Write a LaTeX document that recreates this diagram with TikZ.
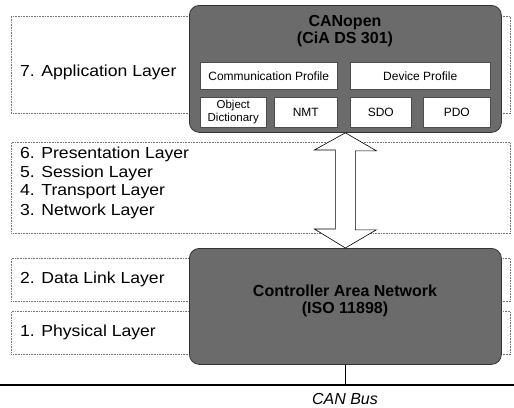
\documentclass[tikz,border=0pt]{standalone}
\usepackage{fontspec}
\setmainfont{Liberation Sans}
\newfontfamily\lblfont[FakeStretch=1.1]{Liberation Sans}
\begin{document}
\begin{tikzpicture}[x=1pt,y=-1pt,
 layerbox/.style={draw=black!55, densely dotted, line width=0.6pt, inner sep=0pt, anchor=north west},
 darkbox/.style={draw=black!80, fill=black!58, rounded corners=10pt, line width=0.8pt, inner sep=0pt, anchor=north west},
 innerbox/.style={draw=black!70, fill=white, line width=0.5pt, inner sep=0pt, anchor=north west, align=center, font=\fontsize{12}{13}\selectfont},
 lbl/.style={anchor=west, inner sep=0pt, font=\lblfont\fontsize{16}{19}\selectfont},
 darktitle/.style={align=center, inner sep=0pt, text=black, font=\bfseries\fontsize{16}{17}\selectfont},
 arrowshape/.style={draw=black, fill=white, line width=0.6pt, line join=miter}
]
\useasboundingbox (0,0) rectangle (514,407);

% layer boxes
\node[layerbox, minimum width=499pt, minimum height=97pt] (app) at (11,16) {};
\node[layerbox, minimum width=499pt, minimum height=91pt] (mid) at (11,142) {};
\node[layerbox, minimum width=499pt, minimum height=43pt] (dll) at (11,258) {};
\node[layerbox, minimum width=499pt, minimum height=43pt] (phy) at (11,311) {};

% layer labels
\node[lbl] (l7) at (20,72) {7. Application Layer};
\node[lbl] (l6) at (20,154) {6. Presentation Layer};
\node[lbl] (l5) at (20,173) {5. Session Layer};
\node[lbl] (l4) at (20,192) {4. Transport Layer};
\node[lbl] (l3) at (20,211) {3. Network Layer};
\node[lbl] (l2) at (20,279) {2. Data Link Layer};
\node[lbl] (l1) at (20,332) {1. Physical Layer};

% CANopen box
\node[darkbox, minimum width=312pt, minimum height=127pt] (canopen) at (189,5) {};
\node[darktitle] (cotitle) at (345,31) {CANopen\\(CiA DS 301)};
\node[innerbox, minimum width=137pt, minimum height=27pt] (comm) at (200,62) {Communication Profile};
\node[innerbox, minimum width=140pt, minimum height=27pt] (dev) at (350,62) {Device Profile};
\node[innerbox, minimum width=66pt, minimum height=30pt, font=\fontsize{11.5}{12.5}\selectfont] (od) at (200,97) {Object\\Dictionary};
\node[innerbox, minimum width=63pt, minimum height=30pt] (nmt) at (274,97) {NMT};
\node[innerbox, minimum width=61pt, minimum height=30pt] (sdo) at (350,97) {SDO};
\node[innerbox, minimum width=67pt, minimum height=30pt] (pdo) at (423,97) {PDO};

% CAN box
\node[darkbox, minimum width=312pt, minimum height=116pt] (can) at (189,248) {};
\node[darktitle] (cantitle) at (345,301) {Controller Area Network\\(ISO 11898)};

% double arrow between the two boxes
\draw[arrowshape] (canopen.south) -- ++(31,18) -- ++(-21,0) -- ++(0,79) -- ++(21,0)
   -- (can.north) -- ++(-31,-19) -- ++(21,0) -- ++(0,-79) -- ++(-21,0) -- cycle;

% bus
\coordinate (busL) at (0,385);
\coordinate (busR) at (514,385);
\draw[line width=1.6pt] (busL) -- (busR);
\draw[line width=1.1pt] (can.south) -- (can.south |- busL);
\node[inner sep=0pt, font=\itshape\fontsize{16}{17}\selectfont] (canbus) at (345,399) {CAN Bus};
\end{tikzpicture}
\end{document}
